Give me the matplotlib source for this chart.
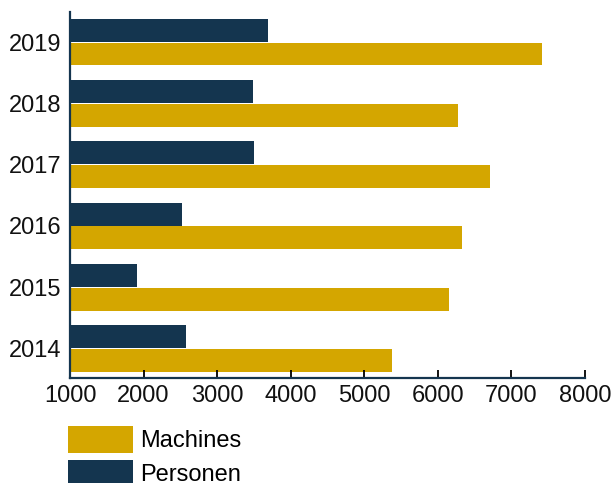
import matplotlib
matplotlib.use("Agg")
import matplotlib.pyplot as plt
import numpy as np

# Data
years = ['2014', '2015', '2016', '2017', '2018', '2019']
machines = [5377, 6152, 6328, 6709, 6274, 7416]
personen = [2577, 1911, 2522, 3500, 3487, 3691]

navy = '#14354f'
gold = '#d4a600'

plt.rcParams['font.family'] = ['Liberation Sans', 'DejaVu Sans']

fig = plt.figure(figsize=(6.15, 4.83), dpi=100)
ax = fig.add_axes([70/615, 1 - 378/483, 515/615, 366/483])

y = np.arange(len(years))
h = 0.375
b1 = ax.barh(y - 0.195, np.array(machines) - 1000, left=1000, height=h, color=gold, label='Machines')
b2 = ax.barh(y + 0.195, np.array(personen) - 1000, left=1000, height=h, color=navy, label='Personen')

ax.set_xlim(1000, 8000)
ax.set_ylim(-0.48, 5.49)
ax.set_yticks(y)
ax.set_yticklabels(years)
ax.set_xticks(range(1000, 8001, 1000))

for s in ['top', 'right']:
    ax.spines[s].set_visible(False)
for s in ['left', 'bottom']:
    ax.spines[s].set_color(navy)
    ax.spines[s].set_linewidth(1.6)

ax.tick_params(axis='y', length=0, pad=6, labelsize=17, labelcolor='#111111')
ax.tick_params(axis='x', direction='in', length=6, width=1.3, color='black', pad=5,
               labelsize=17, labelcolor='#111111')

fig.legend(handles=[b1, b2], labels=['Machines', 'Personen'], loc='upper left',
           bbox_to_anchor=(68/615, 1 - 426/483), frameon=False, fontsize=17,
           handlelength=2.75, handleheight=1.35, handletextpad=0.3,
           labelspacing=0.3, borderpad=0, borderaxespad=0)

fig.savefig('out.png', dpi=100)
